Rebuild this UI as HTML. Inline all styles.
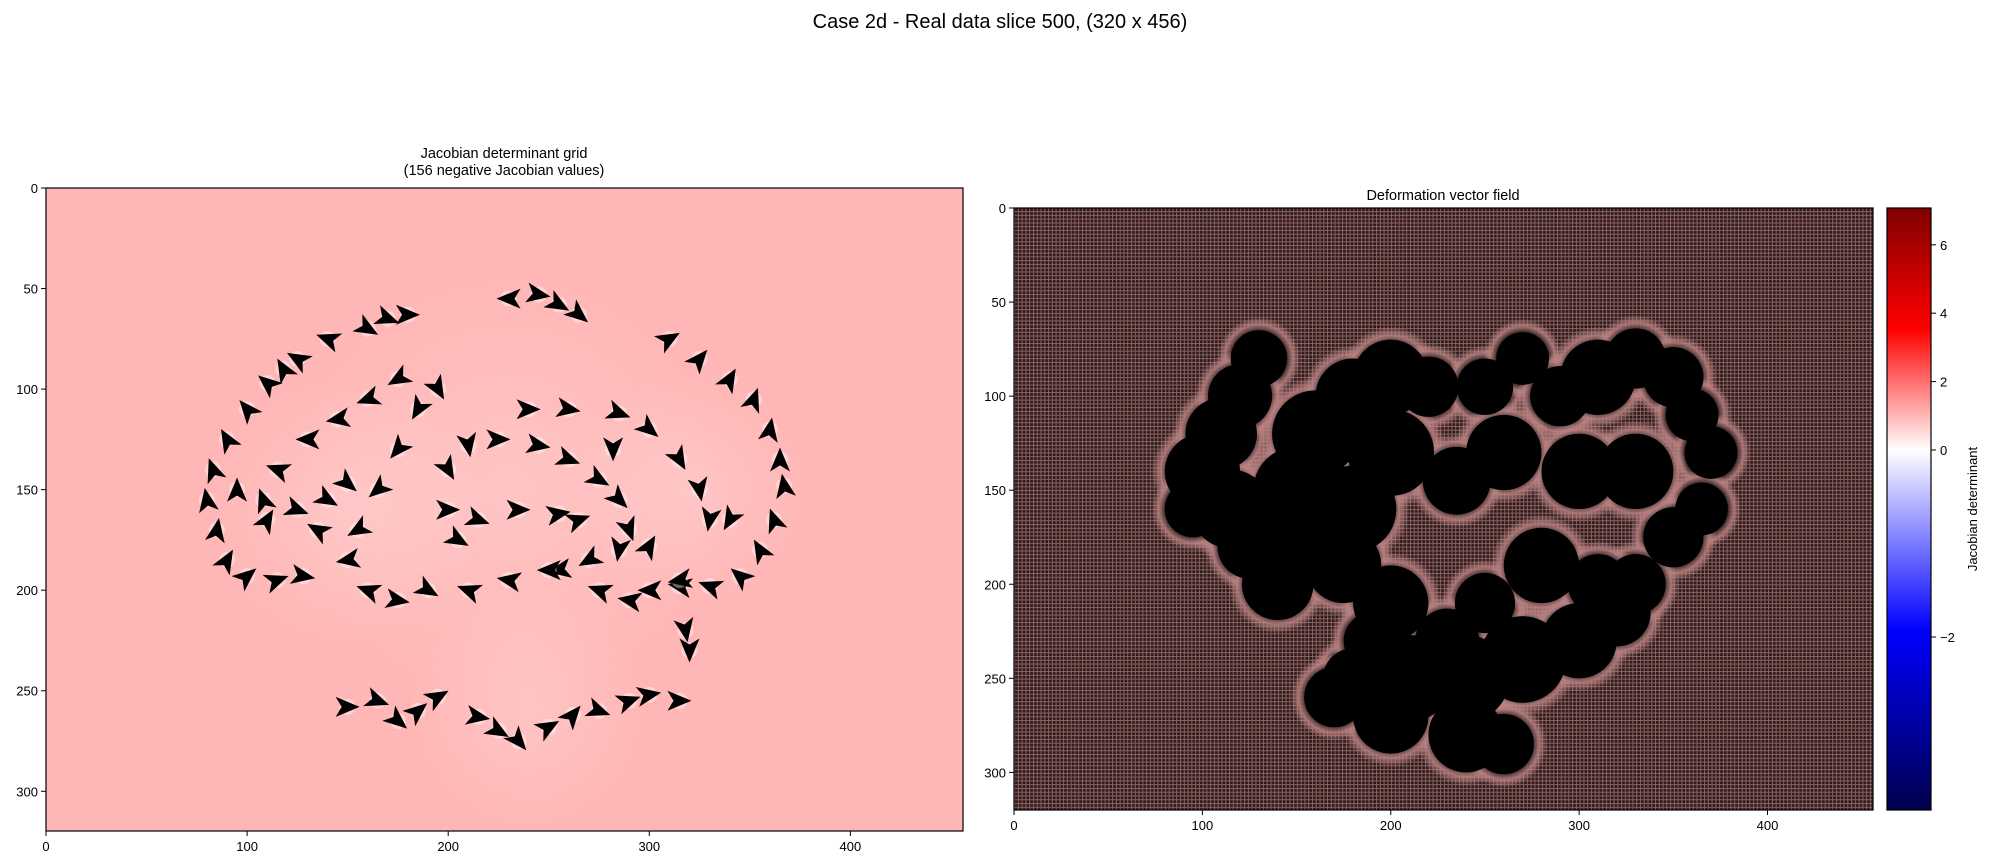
<!DOCTYPE html>
<html><head><meta charset="utf-8">
<style>
body{margin:0;background:#fff;}
svg{display:block;font-family:"Liberation Sans","DejaVu Sans",sans-serif;}
</style></head>
<body>
<svg id="fig" width="1989" height="864" viewBox="0 0 1989 864" xmlns="http://www.w3.org/2000/svg">
<defs>
<pattern id="grid" width="3.77" height="3.77" patternUnits="userSpaceOnUse">
<rect width="3.77" height="3.77" fill="#2a1b1b"/>
<rect width="3.77" height="1" fill="#8f6060"/>
<rect width="1" height="3.77" fill="#8f6060"/>
</pattern>
<radialGradient id="halo"><stop offset="0.6" stop-color="#000" stop-opacity="1"/><stop offset="0.82" stop-color="#b88080" stop-opacity="0.85"/><stop offset="1" stop-color="#c89090" stop-opacity="0"/></radialGradient>
<radialGradient id="lite"><stop offset="0" stop-color="#fff" stop-opacity="0.2"/><stop offset="1" stop-color="#fff" stop-opacity="0"/></radialGradient>
<linearGradient id="cbar" x1="0" y1="208" x2="0" y2="810" gradientUnits="userSpaceOnUse">
<stop offset="0" stop-color="#800000"/>
<stop offset="0.201" stop-color="#ff0000"/>
<stop offset="0.402" stop-color="#ffffff"/>
<stop offset="0.701" stop-color="#0000ff"/>
<stop offset="1" stop-color="#00004d"/>
</linearGradient>
<clipPath id="clipL"><rect x="46" y="188" width="917" height="643"/></clipPath>
<clipPath id="clipR"><rect x="1014" y="208" width="859" height="602"/></clipPath>
</defs>
<text x="1000" y="28" font-size="20" text-anchor="middle">Case 2d - Real data slice 500, (320 x 456)</text>
<text x="504" y="158" font-size="14.5" text-anchor="middle">Jacobian determinant grid</text>
<text x="504" y="175" font-size="14.5" text-anchor="middle">(156 negative Jacobian values)</text>
<text x="1443" y="200" font-size="14.5" text-anchor="middle">Deformation vector field</text>
<g id="left" clip-path="url(#clipL)">
<rect x="46" y="188" width="917" height="643" fill="#ffb6b6"/>
</g>
<rect x="46" y="188" width="917" height="643" fill="none" stroke="#000" stroke-width="1.2"/>
<g id="right" clip-path="url(#clipR)">
<rect x="1014" y="208" width="859" height="602" fill="url(#grid)"/>
</g>
<rect x="1014" y="208" width="859" height="602" fill="none" stroke="#000" stroke-width="1.2"/>
<rect x="1887" y="208" width="44" height="602" fill="url(#cbar)" stroke="#000" stroke-width="1.2"/>
<text transform="translate(1977,509) rotate(-90)" font-size="13" text-anchor="middle">Jacobian determinant</text>
<g id="axes"></g>
</svg>
<script>
const xTicks=[0,100,200,300,400];
const yTicks=[0,50,100,150,200,250,300];
const cbTicks=[6,4,2,0,-2];
const cbTickLabels=["6","4","2","0","\u22122"];
const arrowX=[140,125,110,100,90,83,80,85,90,100,115,128,160,170,180,230,245,255,265,310,325,340,352,360,365,367,362,355,345,330,315,175,160,145,130,115,108,110,125,140,150,185,175,165,155,150,160,175,190,200,210,225,245,260,275,285,290,285,270,255,240,260,285,300,315,325,330,340,200,215,235,255,265,275,290,300,315,318,320,210,230,250,150,165,175,185,195,215,225,235,250,262,275,290,300,315,118,95,135,205,195,282,300];
const arrowY=[75,85,97,110,125,140,155,170,185,193,195,193,70,65,63,55,53,58,63,75,85,95,105,120,135,148,165,180,193,198,198,95,105,115,125,140,155,165,160,155,147,110,130,150,170,185,200,205,200,140,128,125,128,135,145,155,170,180,185,190,110,110,112,120,135,150,165,165,160,165,160,162,165,200,205,200,195,220,230,200,195,190,258,255,265,260,253,263,270,275,268,262,260,255,252,255,90,150,170,175,100,130,178];
const arrowAngle=[200,210,220,230,240,250,260,280,300,320,340,10,30,20,0,180,10,30,40,330,310,300,290,280,270,260,250,240,220,200,190,150,160,170,180,200,250,300,20,30,40,120,130,140,150,170,200,10,30,60,80,0,10,20,30,45,70,100,150,170,0,10,20,40,60,80,100,120,0,20,0,350,340,200,190,180,170,80,90,200,190,180,0,20,40,320,330,10,30,50,330,310,20,340,350,0,240,270,210,30,60,90,300];
const blobX=[100,110,130,120,115,125,140,150,160,180,200,220,200,180,175,250,270,290,310,330,350,360,370,365,350,330,300,260,235,200,210,240,270,300,320,330,250,240,200,260,180,170,280,310,95,150,190,230];
const blobY=[140,120,80,100,160,180,200,150,120,100,90,95,130,160,190,95,80,100,90,80,90,110,130,160,175,140,140,130,145,210,250,250,240,230,215,200,210,280,270,285,250,260,190,200,160,180,230,230];
const blobR=[17,16,12,14,18,14,16,20,20,17,17,13,20,20,17,12,11,13,17,13,13,11,11,11,13,17,17,17,15,17,20,20,20,17,15,13,13,17,17,13,13,13,17,13,12,15,12,14];
const lightX=[230,150,320,240];
const lightY=[150,160,150,260];
const lightR=[110,70,60,60];
const NS='http://www.w3.org/2000/svg';
function mk(t,a,p){const e=document.createElementNS(NS,t);for(const k in a)e.setAttribute(k,a[k]);p.appendChild(e);return e;}
const L={x0:46,y0:188,s:917/456}, R={x0:1014,y0:208,s:859/456};
const lx=v=>L.x0+v*L.s, ly=v=>L.y0+v*L.s, rx=v=>R.x0+v*R.s, ry=v=>R.y0+v*(602/320);
const cbY=v=> v>=0 ? 450-v*34.2 : 450-v*93.5;
const left=document.getElementById('left'), right=document.getElementById('right'), axes=document.getElementById('axes');
for(let i=0;i<lightX.length;i++){
 const e=mk('circle',{cx:lx(lightX[i]),cy:ly(lightY[i]),r:lightR[i]*L.s,fill:'url(#lite)'},left);
 
 
}
for(let i=0;i<arrowX.length;i++){
 const cx=lx(arrowX[i]),cy=ly(arrowY[i]);
 const w=mk('circle',{cx:cx,cy:cy,r:8,fill:'#fff',opacity:0.4},left);
 
 
 const g=mk('polygon',{points:'-12,-10 12,0 -12,10 -6,0',fill:'#000',transform:`translate(${cx},${cy}) rotate(${arrowAngle[i]})`},left);
 
 
}
for(let i=0;i<blobX.length;i++){
 const e=mk('circle',{cx:rx(blobX[i]),cy:ry(blobY[i]),r:(blobR[i]+10)*R.s,fill:'url(#halo)'},right);
 
 
}
for(let i=0;i<blobX.length;i++){
 const e=mk('circle',{cx:rx(blobX[i]),cy:ry(blobY[i]),r:(blobR[i]+3)*R.s,fill:'#000'},right);
 
 
}
function tickX(xf,yb,lab,name){
 const t=mk('line',{x1:xf,x2:xf,y1:yb,y2:yb+5,stroke:'#000','stroke-width':1},axes);
 
 
 const e=mk('text',{x:xf,y:yb+20,'font-size':13,'text-anchor':'middle'},axes);e.textContent=lab;
 
 
}
function tickY(xl,yf,lab,name){
 const t=mk('line',{x1:xl-5,x2:xl,y1:yf,y2:yf,stroke:'#000','stroke-width':1},axes);
 
 
 const e=mk('text',{x:xl-8,y:yf+5,'font-size':13,'text-anchor':'end'},axes);e.textContent=lab;
 
 
}
xTicks.forEach(v=>{tickX(lx(v),831,String(v),'left-x');tickX(rx(v),810,String(v),'right-x');});
yTicks.forEach(v=>{tickY(46,ly(v),String(v),'left-y');tickY(1014,ry(v),String(v),'right-y');});
cbTicks.forEach((v,i)=>{
 const y=cbY(v);
 const t=mk('line',{x1:1931,x2:1936,y1:y,y2:y,stroke:'#000','stroke-width':1},axes);
 
 
 const e=mk('text',{x:1940,y:y+5,'font-size':13},axes);e.textContent=cbTickLabels[i];
 
 
});
</script>
</body></html>
